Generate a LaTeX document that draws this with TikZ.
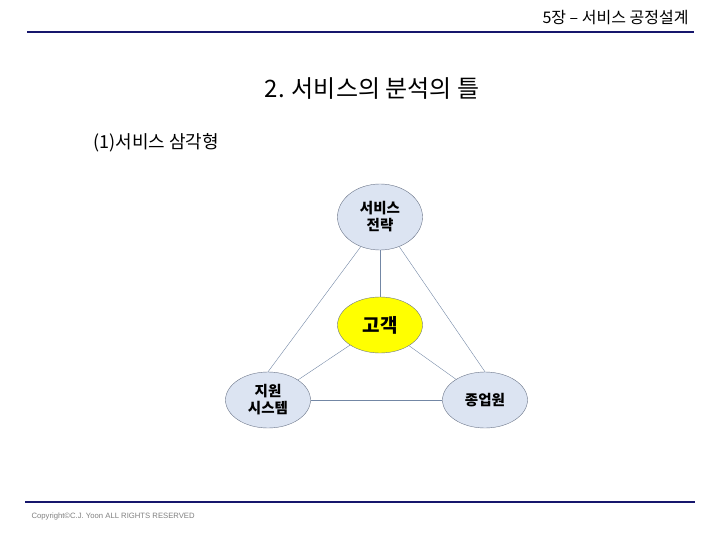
\documentclass[tikz,border=0pt]{standalone}
\usepackage{xcolor}
\usepackage{fontspec}
\usepackage{tikz}
\usetikzlibrary{shapes.geometric}
\newfontfamily\kr{Noto Sans CJK KR}
\setmainfont{Noto Sans CJK KR}
\definecolor{slidenavy}{RGB}{22, 22, 108}
\definecolor{ovalblue}{RGB}{220, 228, 242}
\definecolor{ovalgray}{RGB}{105, 115, 135}
\definecolor{linkblue}{RGB}{115, 135, 165}
\definecolor{custyellow}{RGB}{255, 255, 0}

\begin{document}
\begin{tikzpicture}[x=1pt, y=-1pt]
					\useasboundingbox (0,0) rectangle (720,540);
					\tikzset{oval/.style={ellipse, draw=ovalgray, fill=ovalblue, minimum width=85pt, minimum height=56pt, inner sep=0pt, align=center, font=\kr\bfseries\fontsize{14.5}{17}\selectfont}}
					% header and footer
					\node[anchor=east, font=\kr\fontsize{16}{18}\selectfont] (chap) at (692,18) {5장 – 서비스 공정설계};
					\draw[line width=2.5pt, slidenavy] (27,32) -- (694,32);
					\draw[line width=2.5pt, slidenavy] (25,502) -- (695,502);
					\node[anchor=west, gray, font=\fontspec{Liberation Sans}\fontsize{7.7}{9}\selectfont] (copy) at (28,517) {Copyright©C.J. Yoon ALL RIGHTS RESERVED};
					% titles
					\node[font=\kr\fontsize{24}{28}\selectfont] (title) at (372,89) {2. 서비스의 분석의 틀};
					\node[anchor=west, font=\kr\fontsize{18}{20}\selectfont] (sub) at (90,143) {(1)서비스 삼각형};
					% triangle
					\node[oval, minimum height=66pt] (strat) at (380,217) {서비스\\전략};
					\node[oval, fill=custyellow, font=\kr\bfseries\fontsize{19}{20}\selectfont] (cust) at (380,325) {고객};
					\node[oval] (supp) at (268,400) {지원\\시스템};
					\node[oval] (staff) at (485,400) {종업원};
					\draw[linkblue] (strat) -- (cust);
					\draw[linkblue] (strat.237) -- (supp.north);
					\draw[linkblue] (strat.-57) -- (staff.north);
					\draw[linkblue] (cust) -- (supp);
					\draw[linkblue] (cust) -- (staff);
					\draw[linkblue] (supp) -- (staff);
				\end{tikzpicture}
\end{document}
